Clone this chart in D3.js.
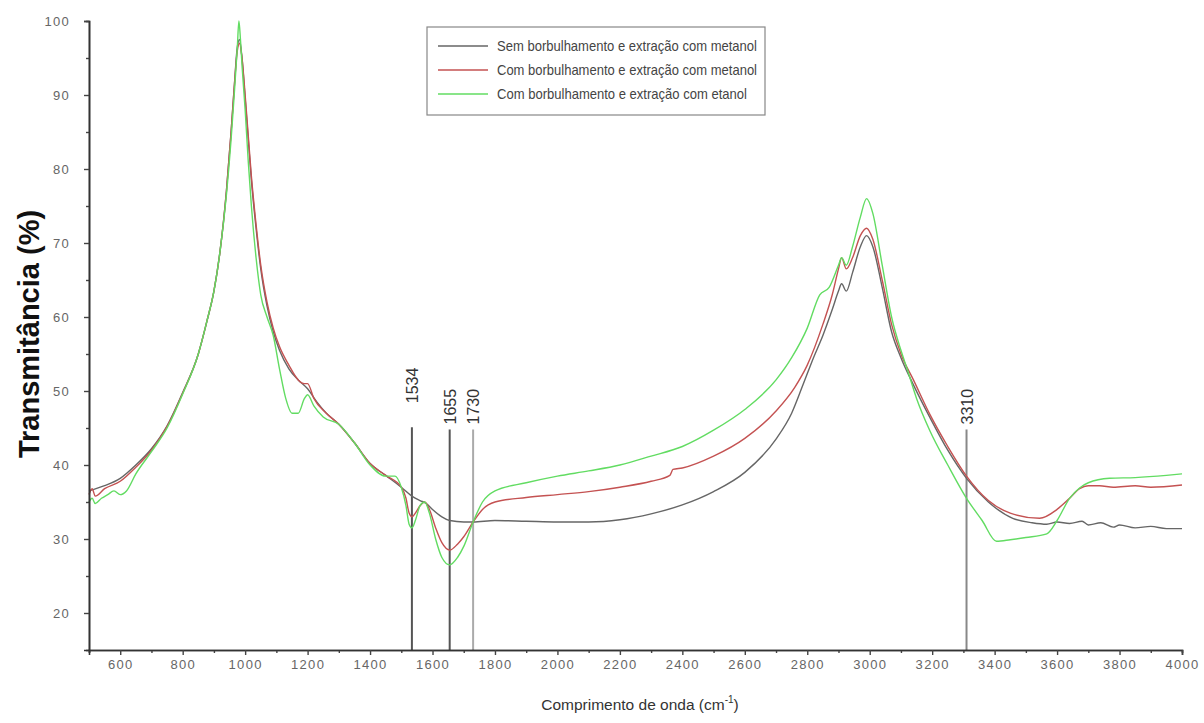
<!DOCTYPE html>
<html>
<head>
<meta charset="utf-8">
<script src="https://cdn.jsdelivr.net/npm/d3@7"></script>
<style>
  body { margin: 0; background: #fff; }
  svg text { font-family: "Liberation Sans", Arial, sans-serif; }
</style>
</head>
<body>
<svg id="ftir" width="1204" height="723"></svg>
<script>
// series: [wavenumber, transmittance]
const semMetanol = [[500,36.5],[550,37.2],[600,38.2],[650,40],[700,42.2],[750,45.3],[800,49.8],[850,55],[878,59.5],[900,63.5],[920,69],[940,77],[955,85],[965,91],[975,96.5],[982,97.5],[990,95],[1000,89.5],[1010,84],[1020,78.5],[1035,72],[1050,66.5],[1070,61.5],[1090,58],[1110,55.5],[1140,53],[1170,51.5],[1200,50.3],[1230,48.5],[1260,47],[1300,45.5],[1350,43],[1400,40.2],[1450,38.6],[1500,37],[1534,35.8],[1560,35.2],[1580,34.8],[1600,34],[1630,33],[1655,32.5],[1700,32.3],[1730,32.3],[1800,32.5],[1900,32.4],[2000,32.3],[2100,32.3],[2200,32.6],[2300,33.4],[2400,34.6],[2500,36.4],[2600,39],[2700,43.5],[2750,47],[2786,50.8],[2820,54.5],[2850,57.5],[2880,61],[2900,63.5],[2910,64.5],[2925,63.5],[2945,66],[2970,69.5],[2990,71],[3010,69.5],[3040,64],[3070,58],[3100,54.5],[3138,51],[3193,46.4],[3250,42],[3310,38.2],[3380,35],[3458,32.8],[3520,32.2],[3567,32],[3600,32.3],[3640,32.1],[3680,32.4],[3700,31.9],[3740,32.2],[3780,31.6],[3800,31.9],[3850,31.5],[3900,31.7],[3950,31.4],[4000,31.4]];
const comMetanol = [[500,36],[510,36.8],[520,35.8],[550,36.8],[600,37.8],[650,39.7],[700,42],[750,45.2],[800,49.7],[850,55],[878,59.5],[900,63.5],[920,69],[940,77],[955,85],[965,91],[975,96],[982,97],[990,95],[1000,90],[1010,84.5],[1020,79],[1035,72.5],[1050,67],[1070,62],[1090,58.5],[1110,56],[1140,53.5],[1170,51.5],[1190,51],[1200,51],[1220,49],[1260,47],[1300,45.5],[1350,43],[1400,40.2],[1450,38.6],[1500,37],[1515,35.5],[1525,33.5],[1534,33],[1545,33.5],[1560,34.5],[1575,35],[1590,34],[1610,31.5],[1630,29.5],[1655,28.5],[1680,29.3],[1700,30.3],[1730,32.3],[1760,34],[1800,35],[1900,35.6],[2000,36],[2100,36.4],[2200,37],[2300,37.8],[2360,38.6],[2370,39.4],[2400,39.6],[2500,41.2],[2600,43.6],[2700,47.3],[2760,50.5],[2800,53.5],[2850,59],[2880,63],[2900,66.5],[2910,68],[2925,66.5],[2945,68],[2970,71],[2990,72],[3010,70.5],[3040,65],[3070,59],[3100,55],[3140,51.5],[3193,46.8],[3250,42.5],[3310,38.5],[3380,35.2],[3450,33.5],[3544,32.8],[3600,34],[3640,35.5],[3672,36.8],[3700,37.2],[3736,37.2],[3780,37],[3850,37.2],[3900,37],[4000,37.3]];
const comEtanol = [[500,35],[510,35.5],[520,34.8],[540,35.5],[560,36],[580,36.5],[600,36],[620,36.5],[650,38.8],[700,41.8],[750,45],[800,49.6],[850,55],[878,59.5],[900,63.5],[920,69],[940,76.5],[955,84],[965,90],[975,96.5],[980,100],[985,97.5],[990,94],[1000,88],[1010,81],[1020,75],[1035,68],[1050,63],[1070,60],[1090,57.5],[1110,53],[1130,49],[1150,47],[1170,47],[1190,49],[1200,49.5],[1220,48],[1250,46.5],[1300,45.5],[1350,43],[1400,40],[1450,38.5],[1480,38.5],[1500,37],[1515,34.5],[1525,32],[1534,31.5],[1545,32.5],[1560,34.5],[1575,35],[1590,33.5],[1610,30],[1630,27.5],[1655,26.5],[1680,27.5],[1700,29],[1730,32.3],[1760,35],[1800,36.5],[1900,37.6],[2000,38.5],[2100,39.2],[2200,40],[2300,41.2],[2400,42.5],[2500,44.7],[2600,47.5],[2700,51.5],[2750,54.5],[2800,58.5],[2840,63],[2870,64],[2900,67],[2910,68],[2925,67],[2945,69.5],[2970,73.5],[2990,76],[3010,74],[3040,67],[3070,60],[3100,55.5],[3122,52.7],[3150,49],[3193,44.6],[3250,40],[3310,35.5],[3360,32.5],[3406,29.7],[3450,29.9],[3500,30.2],[3567,30.7],[3600,32.5],[3640,35.5],[3672,36.9],[3700,37.6],[3768,38.2],[3850,38.3],[3950,38.6],[4000,38.8]];

const seriesNames = ["Sem borbulhamento e extração com metanol", "Com borbulhamento e extração com metanol", "Com borbulhamento e extração com etanol"];
const seriesColors = ["#666666", "#c45252", "#62dc62"];

// marked bands and the top of each marker line
const bands = [1534, 1655, 1730, 3310];
const bandTops = [45.1, 44.8, 44.8, 44.8];
const bandColors = ["#555", "#555", "#aaa", "#888"];

const xTicks = d3.range(600, 4001, 200);
const yTicks = d3.range(20, 101, 10);

const svg = d3.select("svg#ftir");
const margins = { top: 21, right: 22, bottom: 73, left: 89 };
const width = +svg.attr("width");
const height = +svg.attr("height");

const xScale = d3.scaleLinear().domain([500, 4000]).range([margins.left, width - margins.right]);
const yScale = d3.scaleLinear().domain([15, 100]).range([height - margins.bottom, margins.top]);

// axes
const bottomAxis = d3.axisBottom(xScale).tickValues(xTicks).tickSize(5).tickPadding(5).tickFormat(d3.format("d"));
const bottomMinor = d3.axisBottom(xScale).tickValues(d3.range(500, 4000, 200)).tickSize(3).tickFormat("");
const leftAxis = d3.axisLeft(yScale).tickValues(yTicks).tickSize(5).tickPadding(14).tickFormat(d3.format("d"));
const leftMinor = d3.axisLeft(yScale).tickValues(d3.range(25, 100, 10)).tickSize(3).tickFormat("");

function styleAxis(g) {
  g.select(".domain").attr("stroke", "#333").attr("stroke-width", 1.6);
  g.selectAll(".tick line").attr("stroke", "#444").attr("stroke-width", 1.4);
  g.selectAll(".tick text")
    .attr("fill", "#666")
    .attr("font-size", 13)
    .attr("letter-spacing", 1.3);
}

// marker lines
bands.forEach((b, i) => {
  svg.append("line")
    .attr("x1", xScale(b)).attr("x2", xScale(b))
    .attr("y1", yScale(bandTops[i])).attr("y2", yScale(15))
    .attr("stroke", bandColors[i])
    .attr("stroke-width", 2);
  const ty = yScale(bandTops[i]) - (i == 0 ? 24 : 5);
  svg.append("text")
    .text(b)
    .attr("transform", `translate(${xScale(b) + 6},${ty}) rotate(-90)`)
    .attr("font-size", 16)
    .attr("fill", "#333");
});

// curves
const line = d3.line()
  .x(d => xScale(d[0]))
  .y(d => yScale(d[1]))
  .curve(d3.curveMonotoneX);

[semMetanol, comMetanol, comEtanol].forEach((s, i) => {
  svg.append("path")
    .datum(s)
    .attr("d", line)
    .attr("fill", "none")
    .attr("stroke", seriesColors[i])
    .attr("stroke-width", 1.4);
});

svg.append("g")
  .attr("transform", `translate(0,${height - margins.bottom})`)
  .call(bottomMinor).call(styleAxis);
svg.append("g")
  .attr("transform", `translate(0,${height - margins.bottom})`)
  .call(bottomAxis).call(styleAxis);
svg.append("g")
  .attr("transform", `translate(${margins.left},0)`)
  .call(leftMinor).call(styleAxis);
svg.append("g")
  .attr("transform", `translate(${margins.left},0)`)
  .call(leftAxis).call(styleAxis);

// axis titles
const xTitle = svg.append("text")
  .attr("x", 640)
  .attr("y", 710)
  .attr("text-anchor", "middle")
  .attr("font-size", 15.5)
  .attr("fill", "#333");
xTitle.append("tspan").text("Comprimento de onda (cm");
xTitle.append("tspan").text("-1").attr("font-size", 10).attr("dy", -7);
xTitle.append("tspan").text(")").attr("dy", 7);

svg.append("text")
  .text("Transmitância (%)")
  .attr("transform", `translate(39,334) rotate(-90)`)
  .attr("text-anchor", "middle")
  .attr("font-size", 29)
  .attr("font-weight", "bold")
  .attr("fill", "#111");

// legend
const legend = svg.append("g").attr("transform", "translate(427,27)");
legend.append("rect")
  .attr("width", 338).attr("height", 88)
  .attr("fill", "#fff")
  .attr("stroke", "#888")
  .attr("stroke-width", 1.2);
seriesNames.forEach((name, i) => {
  const y = 19 + i * 24;
  legend.append("line")
    .attr("x1", 11).attr("x2", 61)
    .attr("y1", y).attr("y2", y)
    .attr("stroke", seriesColors[i])
    .attr("stroke-width", 1.4);
  legend.append("text")
    .text(name)
    .attr("x", 70).attr("y", y + 5)
    .attr("font-size", 15)
    .attr("textLength", i == 2 ? 250 : 260)
    .attr("lengthAdjust", "spacingAndGlyphs")
    .attr("fill", "#444");
});
</script>
</body>
</html>
